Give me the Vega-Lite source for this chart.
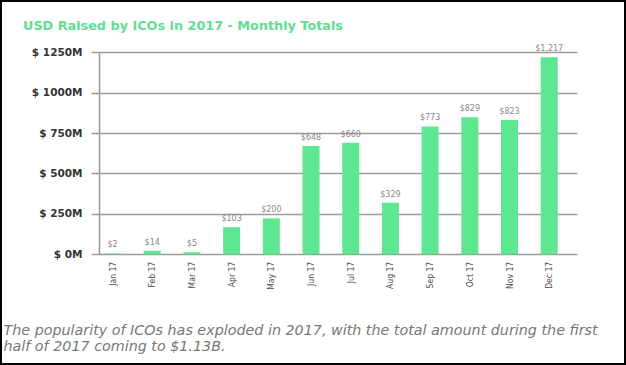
{
  "$schema": "https://vega.github.io/schema/vega-lite/v6.json",
  "width": 626,
  "height": 365,
  "autosize": {"type": "none"},
  "padding": 0,
  "background": "white",
  "title": {
    "text": "USD Raised by ICOs in 2017 - Monthly Totals",
    "anchor": "start",
    "frame": "group",
    "offset": -33,
    "dx": 23,
    "font": "DejaVu Sans",
    "fontSize": 12.8,
    "fontWeight": "bold",
    "color": "#63dd91"
  },
  "data": {
    "values": [
      {"month": "Jan 17", "raised": 5, "label": "$2"},
      {"month": "Feb 17", "raised": 22, "label": "$14"},
      {"month": "Mar 17", "raised": 12, "label": "$5"},
      {"month": "Apr 17", "raised": 167, "label": "$103"},
      {"month": "May 17", "raised": 222, "label": "$200"},
      {"month": "Jun 17", "raised": 670, "label": "$648"},
      {"month": "Jul 17", "raised": 690, "label": "$660"},
      {"month": "Aug 17", "raised": 319, "label": "$329"},
      {"month": "Sep 17", "raised": 791, "label": "$773"},
      {"month": "Oct 17", "raised": 847, "label": "$829"},
      {"month": "Nov 17", "raised": 830, "label": "$823"},
      {"month": "Dec 17", "raised": 1218, "label": "$1,217"}
    ]
  },
  "encoding": {
    "x": {
      "field": "month",
      "type": "ordinal",
      "sort": null,
      "scale": {"range": [99, 577], "paddingInner": 0.572, "paddingOuter": 0.306, "align": 0.206},
      "axis": {
        "orient": "bottom",
        "offset": -110.7,
        "domain": false,
        "ticks": false,
        "grid": false,
        "labelAngle": -90,
        "labelFont": "DejaVu Sans Condensed, Roboto Condensed, Roboto",
        "labelFontSize": 8.5,
        "labelColor": "#4a4a4a",
        "labelPadding": 7,
        "title": ["The popularity of ICOs has exploded in 2017, with the total amount during the first", "half of 2017 coming to $1.13B."],
        "titleFont": "DejaVu Sans",
        "titleFontStyle": "italic",
        "titleFontWeight": "normal",
        "titleFontSize": 14.3,
        "titleColor": "#777777",
        "titleX": 3,
        "titleY": 79.7,
        "titleAlign": "left",
        "titleAnchor": "start",
        "titleBaseline": "alphabetic",
        "titleLineHeight": 16.7
      }
    },
    "y": {
      "field": "raised",
      "type": "quantitative",
      "scale": {"domain": [0, 1250], "range": [254.3, 52.2]},
      "axis": {
        "values": [0, 250, 500, 750, 1000, 1250],
        "labelExpr": "'$ ' + datum.value + 'M'",
        "offset": -99,
        "title": null,
        "domainColor": "#9a9a9a",
        "domainWidth": 1.5,
        "tickColor": "#9a9a9a",
        "tickWidth": 1.5,
        "tickSize": 8,
        "grid": true,
        "gridColor": "#9a9a9a",
        "gridWidth": 1.5,
        "labelFont": "DejaVu Sans",
        "labelFontSize": 10.5,
        "labelFontWeight": "bold",
        "labelColor": "#333333",
        "labelPadding": 9
      }
    }
  },
  "layer": [
    {"mark": {"type": "bar", "color": "#5fe690"}},
    {
      "mark": {"type": "text", "font": "DejaVu Sans", "fontSize": 8, "color": "#888888", "baseline": "alphabetic", "dy": -6},
      "encoding": {"text": {"field": "label"}}
    }
  ],
  "config": {"view": {"stroke": "black", "strokeWidth": 4}}
}
